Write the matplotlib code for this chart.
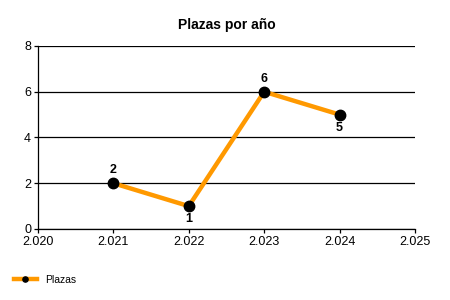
import matplotlib
matplotlib.use("Agg")
import matplotlib.pyplot as plt
from matplotlib.ticker import FuncFormatter, MultipleLocator

plt.rcParams['font.family'] = ['Liberation Sans', 'DejaVu Sans']

years = [2021, 2022, 2023, 2024]
plazas = [2, 1, 6, 5]
label_pos = ['above', 'below', 'above', 'below']

fig = plt.figure(figsize=(4.5, 3), dpi=100)
ax = fig.add_axes([0.0844, 0.2367, 0.8378, 0.61])

ax.plot(years, plazas, color='#FF9900', lw=3.2, marker='o', markersize=7.5,
        markerfacecolor='black', markeredgecolor='black', label='Plazas', zorder=3)

for x, y, p in zip(years, plazas, label_pos):
    if p == 'above':
        ax.annotate(str(y), (x, y), xytext=(0, 5), textcoords='offset points',
                    ha='center', va='bottom', fontsize=9, fontweight='bold')
    else:
        ax.annotate(str(y), (x, y), xytext=(0, -5), textcoords='offset points',
                    ha='center', va='top', fontsize=9, fontweight='bold')

ax.set_xlim(2020, 2025)
ax.set_ylim(0, 8)
ax.xaxis.set_major_locator(MultipleLocator(1))
ax.yaxis.set_major_locator(MultipleLocator(2))
ax.xaxis.set_major_formatter(FuncFormatter(lambda v, pos: f"{v:,.0f}".replace(',', '.')))
ax.grid(axis='y', color='black', lw=0.9)
ax.set_axisbelow(True)
for s in ['top', 'right']:
    ax.spines[s].set_visible(False)
for s in ['left', 'bottom']:
    ax.spines[s].set_linewidth(0.9)
ax.tick_params(length=3, width=0.9, labelsize=9, pad=2)

ax.set_title('Plazas por año', fontsize=10, fontweight='bold', pad=12)

fig.legend(loc='lower left', bbox_to_anchor=(0.01, 0.02), frameon=False, fontsize=7.5,
           handlelength=2.2, markerscale=0.5)

fig.savefig('out.png', dpi=100)
